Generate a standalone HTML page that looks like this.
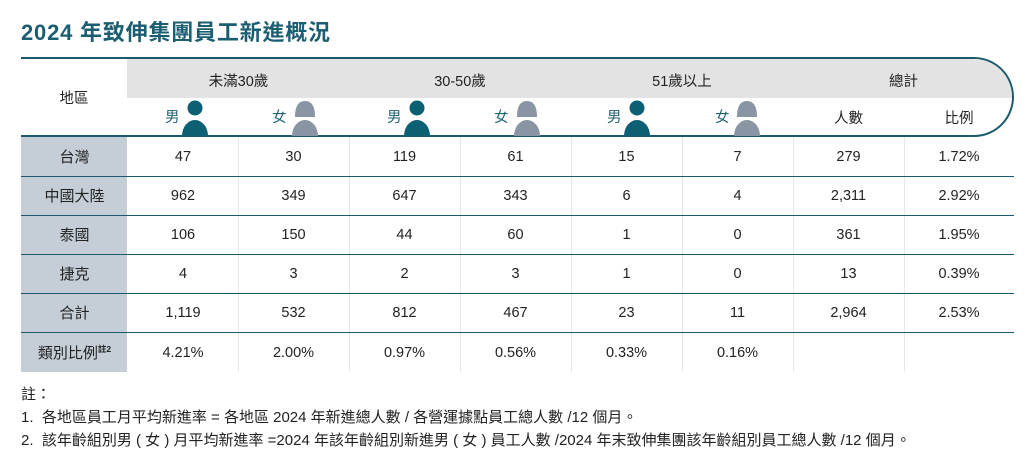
<!DOCTYPE html>
<html>
<head>
<meta charset="utf-8">
<style>
  html,body{margin:0;padding:0;}
  body{width:1034px;height:463px;background:#fff;position:relative;overflow:hidden;
       font-family:"Liberation Sans","Noto Sans CJK TC",sans-serif;color:#222;}
  .abs{position:absolute;}
  .title{left:21px;top:15px;font-size:22px;font-weight:bold;color:#1b5d71;white-space:nowrap;letter-spacing:0.8px;}
  .hbox{left:21px;top:57px;width:993px;height:80px;box-sizing:border-box;border:2px solid #1b5a6d;border-left:none;
        border-radius:0 40px 40px 0;overflow:hidden;}
  .hgray{position:absolute;left:106px;top:0;right:0;height:39px;background:#e3e3e3;}
  .lcol{left:21px;top:137px;width:106px;height:235px;background:#c5ced6;}
  .vl{top:137px;width:1px;height:235px;background:#e8e8e8;}
  .hl{left:21px;width:993px;height:1.6px;background:#1b5a6d;}
  .row{left:21px;height:39px;display:flex;align-items:center;font-size:14.5px;}
  .row span{display:block;text-align:center;}
  .row span:first-child{font-size:15px;}
  .ht{font-size:14.5px;color:#222;text-align:center;white-space:nowrap;}
  .g{font-size:14.5px;color:#1f6275;}
  .note{left:21px;font-size:15px;color:#222;white-space:nowrap;}
  sup{font-size:8.5px;vertical-align:6px;font-weight:bold;}
</style>
</head>
<body>
<div class="abs title">2024 年致伸集團員工新進概況</div>

<div class="abs hbox"><div class="hgray"></div></div>

<!-- header group labels -->
<div class="abs ht" style="left:21px;width:106px;top:87px;">地區</div>
<div class="abs ht" style="left:128px;width:221px;top:70px;">未滿30歲</div>
<div class="abs ht" style="left:349px;width:222px;top:70px;">30-50歲</div>
<div class="abs ht" style="left:571px;width:222px;top:70px;">51歲以上</div>
<div class="abs ht" style="left:793px;width:221px;top:70px;">總計</div>
<div class="abs ht" style="left:793px;width:111px;top:107px;">人數</div>
<div class="abs ht" style="left:904px;width:110px;top:107px;">比例</div>

<!-- gender labels and icons -->
<div class="abs g" style="left:165px;top:106px;">男</div>
<svg class="abs" style="left:182px;top:99px;" width="26" height="37" viewBox="0 0 26 37"><circle cx="13" cy="9" r="7.5" fill="#0d5f73"/><path d="M0 37 A13 16 0 0 1 26 37 Z" fill="#0d5f73"/></svg>
<div class="abs g" style="left:272px;top:106px;">女</div>
<svg class="abs" style="left:292px;top:99px;" width="26" height="37" viewBox="0 0 26 37"><path d="M3 18 C3 8 6 2 13 2 C20 2 23 8 23 18 Z" fill="#8995a2"/><path d="M0 37 A13 16 0 0 1 26 37 Z" fill="#8995a2"/></svg>

<div class="abs g" style="left:387px;top:106px;">男</div>
<svg class="abs" style="left:404px;top:99px;" width="26" height="37" viewBox="0 0 26 37"><circle cx="13" cy="9" r="7.5" fill="#0d5f73"/><path d="M0 37 A13 16 0 0 1 26 37 Z" fill="#0d5f73"/></svg>
<div class="abs g" style="left:494px;top:106px;">女</div>
<svg class="abs" style="left:514px;top:99px;" width="26" height="37" viewBox="0 0 26 37"><path d="M3 18 C3 8 6 2 13 2 C20 2 23 8 23 18 Z" fill="#8995a2"/><path d="M0 37 A13 16 0 0 1 26 37 Z" fill="#8995a2"/></svg>

<div class="abs g" style="left:607px;top:106px;">男</div>
<svg class="abs" style="left:624px;top:99px;" width="26" height="37" viewBox="0 0 26 37"><circle cx="13" cy="9" r="7.5" fill="#0d5f73"/><path d="M0 37 A13 16 0 0 1 26 37 Z" fill="#0d5f73"/></svg>
<div class="abs g" style="left:715px;top:106px;">女</div>
<svg class="abs" style="left:734px;top:99px;" width="26" height="37" viewBox="0 0 26 37"><path d="M3 18 C3 8 6 2 13 2 C20 2 23 8 23 18 Z" fill="#8995a2"/><path d="M0 37 A13 16 0 0 1 26 37 Z" fill="#8995a2"/></svg>

<!-- body background and grid -->
<div class="abs lcol"></div>
<div class="abs vl" style="left:238px;"></div>
<div class="abs vl" style="left:349px;"></div>
<div class="abs vl" style="left:460px;"></div>
<div class="abs vl" style="left:571px;"></div>
<div class="abs vl" style="left:682px;"></div>
<div class="abs vl" style="left:793px;"></div>
<div class="abs vl" style="left:904px;"></div>

<div class="abs hl" style="top:175.5px;"></div>
<div class="abs hl" style="top:214.5px;"></div>
<div class="abs hl" style="top:253.5px;"></div>
<div class="abs hl" style="top:292.5px;"></div>
<div class="abs hl" style="top:331.5px;"></div>

<!-- rows -->
<div class="abs row" style="top:137px;">
  <span style="width:107px">台灣</span><span style="width:110px">47</span><span style="width:111px">30</span><span style="width:111px">119</span><span style="width:111px">61</span><span style="width:111px">15</span><span style="width:111px">7</span><span style="width:111px">279</span><span style="width:110px">1.72%</span>
</div>
<div class="abs row" style="top:176px;">
  <span style="width:107px">中國大陸</span><span style="width:110px">962</span><span style="width:111px">349</span><span style="width:111px">647</span><span style="width:111px">343</span><span style="width:111px">6</span><span style="width:111px">4</span><span style="width:111px">2,311</span><span style="width:110px">2.92%</span>
</div>
<div class="abs row" style="top:215px;">
  <span style="width:107px">泰國</span><span style="width:110px">106</span><span style="width:111px">150</span><span style="width:111px">44</span><span style="width:111px">60</span><span style="width:111px">1</span><span style="width:111px">0</span><span style="width:111px">361</span><span style="width:110px">1.95%</span>
</div>
<div class="abs row" style="top:254px;">
  <span style="width:107px">捷克</span><span style="width:110px">4</span><span style="width:111px">3</span><span style="width:111px">2</span><span style="width:111px">3</span><span style="width:111px">1</span><span style="width:111px">0</span><span style="width:111px">13</span><span style="width:110px">0.39%</span>
</div>
<div class="abs row" style="top:293px;">
  <span style="width:107px">合計</span><span style="width:110px">1,119</span><span style="width:111px">532</span><span style="width:111px">812</span><span style="width:111px">467</span><span style="width:111px">23</span><span style="width:111px">11</span><span style="width:111px">2,964</span><span style="width:110px">2.53%</span>
</div>
<div class="abs row" style="top:333px;">
  <span style="width:107px">類別比例<sup>註2</sup></span><span style="width:110px">4.21%</span><span style="width:111px">2.00%</span><span style="width:111px">0.97%</span><span style="width:111px">0.56%</span><span style="width:111px">0.33%</span><span style="width:111px">0.16%</span><span style="width:111px"></span><span style="width:110px"></span>
</div>

<!-- notes -->
<div class="abs note" style="top:383px;">註：</div>
<div class="abs note" style="top:406px;">1.&nbsp; 各地區員工月平均新進率 = 各地區 2024 年新進總人數 / 各營運據點員工總人數 /12 個月。</div>
<div class="abs note" style="top:429px;">2.&nbsp; 該年齡組別男 ( 女 ) 月平均新進率 =2024 年該年齡組別新進男 ( 女 ) 員工人數 /2024 年末致伸集團該年齡組別員工總人數 /12 個月。</div>
</body>
</html>
